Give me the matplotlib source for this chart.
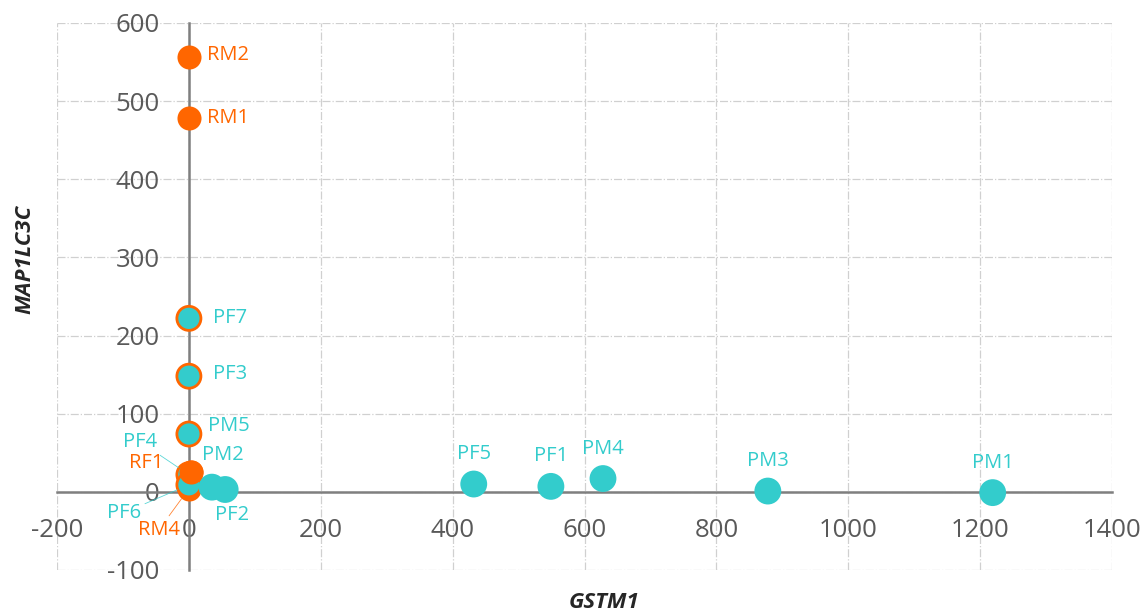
import matplotlib.pyplot as plt
import numpy as np

# data (GSTM1 vs MAP1LC3C)
r_names = ['RM2', 'RM1', 'RF1', 'RM4']
r_x = [0, 0, 3, 0]
r_y = [557, 478, 25, 4]

p_names = ['PF7', 'PF3', 'PM5', 'PF4', 'PF6', 'PM2', 'PF2', 'PF5', 'PF1', 'PM4', 'PM3', 'PM1']
p_x = [0, 0, 0, 0, 0, 35, 55, 432, 549, 628, 878, 1219]
p_y = [222, 148, 74, 22, 9, 6, 3, 10, 7, 17, 1, -1]

x_ticks = np.arange(-200, 1401, 200)
y_ticks = np.arange(-100, 601, 100)

ORANGE = '#FF6600'
TEAL = '#33CCCC'
GRAY = '#595959'

plt.rcParams['font.family'] = ['Open Sans', 'DejaVu Sans']
plt.rcParams['axes.unicode_minus'] = False

fig = plt.figure(figsize=(11.45, 6.16), dpi=100)
ax = fig.add_axes([0.0498, 0.0747, 0.9214, 0.888])

ax.set_xlim(-200, 1400)
ax.set_ylim(-100, 600)
ax.set_xticks(x_ticks)
ax.set_yticks(y_ticks)
ax.grid(True, color='#d0d0d0', linestyle='-.', linewidth=0.9)
ax.set_axisbelow(True)

for s in ['top', 'right']:
    ax.spines[s].set_visible(False)
ax.spines['left'].set_position(('data', 0))
ax.spines['bottom'].set_position(('data', 0))
for s in ['left', 'bottom']:
    ax.spines[s].set_color('#7f7f7f')
    ax.spines[s].set_linewidth(1.8)
    ax.spines[s].set_zorder(1)

ax.tick_params(axis='both', length=0, labelsize=18.5, labelcolor=GRAY)
ax.tick_params(axis='y', pad=21)
ax.tick_params(axis='x', pad=19)

# teal markers sitting on the y axis have an orange ring underneath
edge = [ORANGE if x < 5 else TEAL for x in p_x]
ax.scatter(r_x, r_y, s=300, color=ORANGE, edgecolors=ORANGE, linewidths=0, zorder=3)
ax.scatter(p_x, p_y, s=300, color=TEAL, edgecolors=edge, linewidths=2, zorder=4)
# RF1 lies on top of PF4
ax.scatter(r_x[2:3], r_y[2:3], s=300, color=ORANGE, linewidths=0, zorder=5)

# label offsets in pixels (dx, dy, ha, leader)
k = 0.72
r_off = {'RM2': (18, 2, 'left', False), 'RM1': (18, 0, 'left', False),
         'RF1': (-27, 9, 'right', False), 'RM4': (-9, -41, 'right', True)}
p_off = {'PF7': (24, 0, 'left', False), 'PF3': (24, 2, 'left', False),
         'PM5': (19, 8, 'left', False), 'PF4': (-32, 33, 'right', True),
         'PF6': (-48, -28, 'right', True), 'PM2': (-10, 32, 'left', False),
         'PF2': (-10, -26, 'left', False)}

def label(names, xs, ys, offs, color):
    for n, x, y in zip(names, xs, ys):
        dx, dy, ha, lead = offs.get(n, (0, 30, 'center', False))
        ap = None
        if lead:
            ap = dict(arrowstyle='-', color=color, lw=0.6, alpha=0.8,
                      shrinkA=1, shrinkB=9)
        ax.annotate(n, (x, y), xytext=(dx * k, dy * k), textcoords='offset points',
                    ha=ha, va='center', fontsize=14.5, color=color,
                    arrowprops=ap, zorder=6)

label(r_names, r_x, r_y, r_off, ORANGE)
label(p_names, p_x, p_y, p_off, TEAL)

fig.text(604 / 1145, 1 - 602 / 616, 'GSTM1', ha='center', va='center',
         fontsize=16, fontweight='bold', fontstyle='italic', color='#262626')
fig.text(25 / 1145, 1 - 259 / 616, 'MAP1LC3C', ha='center', va='center',
         rotation=90, fontsize=16, fontweight='bold', fontstyle='italic', color='#262626')

fig.savefig('out.png', dpi=100)
